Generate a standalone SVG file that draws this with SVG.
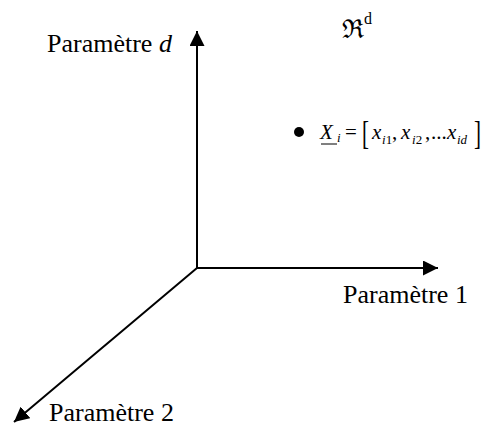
<svg xmlns="http://www.w3.org/2000/svg" width="482" height="427" viewBox="0 0 482 427">
<style>
.t{font-family:"Liberation Serif","Times New Roman",serif;font-size:26px;fill:#000}
.m{font-family:"Liberation Serif","Times New Roman",serif;font-size:21px;fill:#000}
.s{font-family:"Liberation Serif","Times New Roman",serif;font-size:13px;fill:#000}
.i{font-style:italic}
.ax{stroke:#000;stroke-width:2;fill:none}
</style>
<defs>
<marker id="ah" viewBox="0 0 10 10" refX="10" refY="5" markerWidth="7.5" markerHeight="7.5" markerUnits="strokeWidth" orient="auto">
<path d="M0,0 L10,5 L0,10 Z" fill="#000"/>
</marker>
</defs>
<g id="connectors">
<line class="ax" x1="197" y1="268" x2="197" y2="31" marker-end="url(#ah)"/>
<line class="ax" x1="197" y1="268" x2="438" y2="268" marker-end="url(#ah)"/>
<line class="ax" x1="197" y1="268" x2="14" y2="422" marker-end="url(#ah)"/>
</g>
<g id="label-d"><text class="t" x="47" y="52">Paramètre <tspan class="i">d</tspan></text></g>
<g id="label-1"><text class="t" x="343" y="303">Paramètre 1</text></g>
<g id="label-2"><text class="t" x="49" y="421">Paramètre 2</text></g>
<g id="space"><text class="t" x="342" y="38" font-size="28" font-family="'DejaVu Serif',serif">ℜ<tspan font-family="'Liberation Serif',serif" font-size="16" dy="-14">d</tspan></text></g>
<g id="point">
<circle cx="299" cy="132" r="5" fill="#000"/>
<text class="m i" x="320" y="139">X</text>
<line x1="321" y1="144" x2="337" y2="144" stroke="#000" stroke-width="1"/>
<text class="s i" x="337" y="142">i</text>
<text class="m" x="345" y="139">=</text>
<text class="m" transform="translate(362,144) scale(1,1.6)" font-size="24">[</text>
<text class="m i" x="372" y="139">x</text>
<text class="s" x="382" y="144"><tspan class="i">i</tspan>1</text>
<text class="m" x="392" y="139">,</text>
<text class="m i" x="401" y="139">x</text>
<text class="s" x="412" y="144"><tspan class="i">i</tspan>2</text>
<text class="m" x="425" y="139">,</text>
<text class="m" x="431" y="139">...</text>
<text class="m i" x="447" y="139">x</text>
<text class="s i" x="457" y="144">id</text>
<text class="m" transform="translate(474,144) scale(1,1.6)" font-size="24">]</text>
</g>
</svg>
